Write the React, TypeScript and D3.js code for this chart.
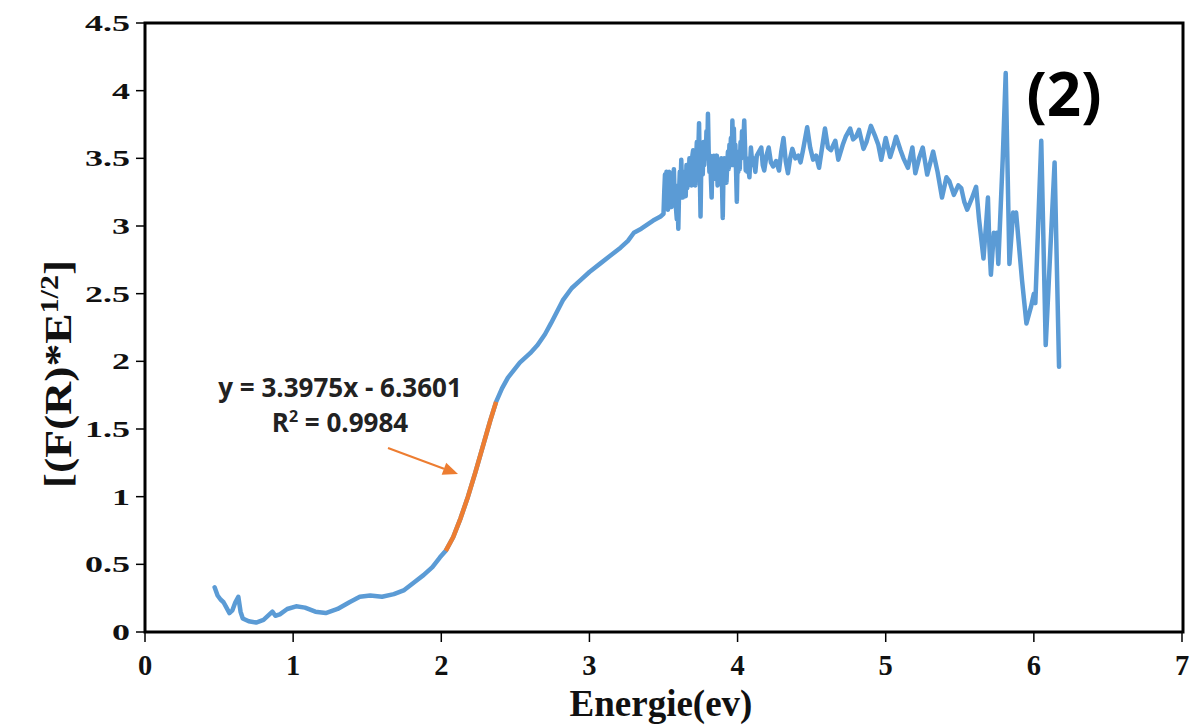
import React from "react";
import * as d3 from "d3";

// ---- data: [energy (eV), [F(R)*E]^1/2] ----
const lowRegion: [number, number][] = [
  [0.47, 0.33], [0.49, 0.27], [0.51, 0.24], [0.53, 0.22], [0.55, 0.18], [0.57, 0.14], [0.59, 0.16], [0.61, 0.22],
  [0.63, 0.26], [0.645, 0.15], [0.66, 0.10], [0.70, 0.08], [0.75, 0.07], [0.80, 0.09], [0.84, 0.13], [0.86, 0.15],
  [0.88, 0.12], [0.91, 0.13], [0.96, 0.17], [1.02, 0.19], [1.08, 0.18], [1.15, 0.15], [1.22, 0.14], [1.30, 0.17],
  [1.38, 0.22], [1.45, 0.26], [1.52, 0.27], [1.60, 0.26], [1.68, 0.28], [1.75, 0.31], [1.82, 0.37], [1.88, 0.42],
  [1.94, 0.48], [1.99, 0.55], [2.03, 0.60],
];
// linear-fit segment (highlighted in orange)
const fitSegment: [number, number][] = [
  [2.03, 0.60], [2.08, 0.70], [2.13, 0.84], [2.18, 1.00], [2.23, 1.18], [2.28, 1.37], [2.33, 1.56], [2.37, 1.70],
];
const edgeRegion: [number, number][] = [
  [2.37, 1.70], [2.41, 1.80], [2.45, 1.88], [2.53, 1.99], [2.60, 2.06], [2.65, 2.12], [2.70, 2.20], [2.74, 2.28],
  [2.82, 2.45], [2.88, 2.54], [2.94, 2.60], [3.00, 2.66], [3.07, 2.72], [3.14, 2.78], [3.21, 2.84], [3.26, 2.89],
  [3.30, 2.95], [3.35, 2.98], [3.39, 3.01], [3.43, 3.04], [3.48, 3.07],
];
const noisyRegion: [number, number][] = [
  [3.500, 3.09], [3.505, 3.25], [3.510, 3.38], [3.515, 3.15], [3.520, 3.40], [3.525, 3.20], [3.530, 3.12],
  [3.535, 3.36], [3.540, 3.40], [3.545, 3.18], [3.550, 3.30], [3.555, 3.14], [3.560, 3.38], [3.565, 3.25],
  [3.570, 3.42], [3.575, 3.22], [3.580, 3.30], [3.585, 3.12], [3.590, 3.05], [3.595, 3.20], [3.600, 2.98],
  [3.605, 3.25], [3.610, 3.40], [3.615, 3.30], [3.620, 3.49], [3.625, 3.28], [3.630, 3.21], [3.635, 3.40],
  [3.640, 3.26], [3.645, 3.38], [3.650, 3.22], [3.655, 3.45], [3.660, 3.28], [3.665, 3.40], [3.670, 3.30],
  [3.675, 3.50], [3.680, 3.32], [3.685, 3.45], [3.690, 3.30], [3.695, 3.52], [3.700, 3.56], [3.705, 3.35],
  [3.710, 3.45], [3.715, 3.30], [3.720, 3.50], [3.725, 3.62], [3.730, 3.40], [3.735, 3.55], [3.740, 3.76],
  [3.745, 3.40], [3.750, 3.07], [3.755, 3.45], [3.760, 3.55], [3.765, 3.38], [3.770, 3.62], [3.775, 3.45],
  [3.780, 3.60], [3.785, 3.50], [3.790, 3.70], [3.795, 3.50], [3.800, 3.83], [3.805, 3.55], [3.810, 3.40],
  [3.815, 3.52], [3.820, 3.35], [3.825, 3.21], [3.830, 3.48], [3.835, 3.38], [3.840, 3.52], [3.845, 3.35],
  [3.850, 3.50], [3.855, 3.42], [3.860, 3.52], [3.865, 3.30], [3.870, 3.48], [3.875, 3.38], [3.880, 3.45],
  [3.885, 3.32], [3.890, 3.50], [3.895, 3.30], [3.900, 3.06], [3.905, 3.40], [3.910, 3.50], [3.915, 3.36],
  [3.920, 3.48], [3.925, 3.32], [3.930, 3.45], [3.935, 3.55], [3.940, 3.42], [3.945, 3.60], [3.950, 3.50],
  [3.955, 3.65], [3.960, 3.45], [3.965, 3.78], [3.970, 3.55], [3.975, 3.72], [3.980, 3.45], [3.985, 3.60],
  [3.990, 3.40], [3.995, 3.18], [4.000, 3.48], [4.005, 3.40], [4.010, 3.55], [4.015, 3.42], [4.020, 3.62],
  [4.025, 3.50], [4.030, 3.70], [4.035, 3.55], [4.040, 3.65], [4.045, 3.78], [4.050, 3.60], [4.055, 3.41],
  [4.060, 3.50], [4.065, 3.40], [4.070, 3.45], [4.080, 3.36], [4.090, 3.58], [4.100, 3.45], [4.110, 3.50],
  [4.120, 3.40], [4.130, 3.52],
];
const plateauRegion: [number, number][] = [
  [4.16, 3.58], [4.17, 3.45], [4.18, 3.41], [4.195, 3.52], [4.21, 3.58], [4.225, 3.47], [4.24, 3.44], [4.26, 3.48],
  [4.28, 3.41], [4.295, 3.55], [4.31, 3.65], [4.325, 3.48], [4.34, 3.39], [4.355, 3.50], [4.37, 3.57], [4.39, 3.50],
  [4.41, 3.52], [4.425, 3.47], [4.44, 3.55], [4.47, 3.73], [4.49, 3.58], [4.51, 3.49], [4.53, 3.52], [4.55, 3.43],
  [4.59, 3.72], [4.61, 3.58], [4.63, 3.56], [4.66, 3.63], [4.68, 3.49], [4.71, 3.60], [4.73, 3.66], [4.76, 3.72],
  [4.78, 3.64], [4.80, 3.66], [4.82, 3.71], [4.85, 3.57], [4.87, 3.62], [4.90, 3.74], [4.93, 3.66], [4.95, 3.60],
  [4.97, 3.49], [5.00, 3.65], [5.03, 3.51], [5.05, 3.58], [5.07, 3.66], [5.10, 3.56], [5.12, 3.50], [5.15, 3.43],
  [5.18, 3.58], [5.20, 3.39], [5.225, 3.50], [5.25, 3.58], [5.28, 3.38], [5.32, 3.55],
];
const tailRegion: [number, number][] = [
  [5.35, 3.40], [5.38, 3.21], [5.41, 3.36], [5.43, 3.33], [5.46, 3.23], [5.49, 3.30], [5.51, 3.28], [5.53, 3.18],
  [5.55, 3.12], [5.58, 3.20], [5.61, 3.29], [5.63, 3.05], [5.66, 2.76], [5.68, 3.05], [5.69, 3.21], [5.70, 2.85],
  [5.71, 2.64], [5.73, 2.95], [5.74, 2.88], [5.75, 2.95], [5.76, 2.72], [5.79, 3.50], [5.81, 4.13], [5.835, 2.72],
  [5.86, 3.10], [5.87, 3.05], [5.88, 3.10], [5.92, 2.60], [5.95, 2.28], [5.98, 2.40], [6.00, 2.50], [6.01, 2.43],
  [6.05, 3.63], [6.08, 2.12], [6.14, 3.47], [6.17, 1.96],
];

const xTicks: number[] = [0, 1, 2, 3, 4, 5, 6, 7];
const yTicks: number[] = [0, 0.5, 1, 1.5, 2, 2.5, 3, 3.5, 4, 4.5];
const yTickLabels: string[] = ["0", "0.5", "1", "1.5", "2", "2.5", "3", "3.5", "4", "4.5"];

const fitEquation = "y = 3.3975x - 6.3601";
const fitR2 = "0.9984";
const panelLabel = "(2)";

export default function App() {
  const W = 1194, H = 726;
  const left = 145, right = 1182, top = 23, bottom = 632;
  const x = d3.scaleLinear().domain([0, 7]).range([left, right]);
  const y = d3.scaleLinear().domain([0, 4.5]).range([bottom, top]);

  const spectrum = [...lowRegion, ...fitSegment.slice(1), ...edgeRegion.slice(1), ...noisyRegion, ...plateauRegion, ...tailRegion];
  const line = d3.line<[number, number]>().x((d) => x(d[0])).y((d) => y(d[1]));

  const blue = "#5B9BD5";
  const orange = "#ED7D31";
  const serif = "'Liberation Serif', 'Times New Roman', serif";
  const sans = "'Open Sans', 'Liberation Sans', sans-serif";

  // arrow
  const ax1 = 388, ay1 = 448, ax2 = 458, ay2 = 474;
  const ang = Math.atan2(ay2 - ay1, ax2 - ax1);
  const hl = 15, hw = 6.5;
  const hx = ax2 - hl * Math.cos(ang), hy = ay2 - hl * Math.sin(ang);
  const head = `M${ax2},${ay2} L${hx - hw * Math.sin(ang)},${hy + hw * Math.cos(ang)} L${hx + hw * Math.sin(ang)},${hy - hw * Math.cos(ang)} Z`;

  return (
    <svg width={W} height={H} style={{ position: "absolute", left: 0, top: 0, background: "#fff" }}>
      <rect x={0} y={0} width={W} height={H} fill="#fff" />
      {/* frame */}
      <rect x={left} y={top} width={right - left + 1} height={bottom - top} fill="none" stroke="#000" strokeWidth={3} />
      {/* y ticks */}
      {yTicks.map((t, i) => (
        <g key={"y" + i}>
          <line x1={left - 9} x2={left} y1={y(t)} y2={y(t)} stroke="#000" strokeWidth={1.5} />
          <text
            transform={`translate(130,${y(t) + 8}) scale(1.5,1)`}
            textAnchor="end"
            fontFamily={serif}
            fontWeight="bold"
            fontSize={24}
            fill="#111"
          >
            {yTickLabels[i]}
          </text>
        </g>
      ))}
      {/* x ticks */}
      {xTicks.map((t, i) => (
        <g key={"x" + i}>
          <line x1={x(t)} x2={x(t)} y1={bottom} y2={bottom + 10} stroke="#000" strokeWidth={1.5} />
          <text
            transform={`translate(${x(t)},675) scale(0.95,1)`}
            textAnchor="middle"
            fontFamily={serif}
            fontWeight="bold"
            fontSize={30}
            fill="#111"
          >
            {t}
          </text>
        </g>
      ))}
      {/* axis titles */}
      <text x={661} y={716} textAnchor="middle" fontFamily={serif} fontWeight="bold" fontSize={37} fill="#111">
        Energie(ev)
      </text>
      <text
        transform="translate(71,374) rotate(-90) scale(1.2,1)"
        textAnchor="middle"
        fontFamily={serif}
        fontWeight="bold"
        fontSize={38}
        fill="#111"
      >
        [(F(R)*E<tspan dy={-13} fontSize={25}>1/2</tspan>
        <tspan dy={13}>]</tspan>
      </text>
      {/* data */}
      <path d={line(spectrum) || ""} fill="none" stroke={blue} strokeWidth={4.5} strokeLinejoin="round" strokeLinecap="round" />
      <path d={line(fitSegment) || ""} fill="none" stroke={orange} strokeWidth={4.5} strokeLinejoin="round" />
      {/* annotation */}
      <text x={340} y={397} textAnchor="middle" fontFamily={sans} fontWeight="bold" fontSize={26} fill="#222">
        {fitEquation}
      </text>
      <text x={340} y={432} textAnchor="middle" fontFamily={sans} fontWeight="bold" fontSize={26} fill="#222">
        R<tspan dy={-10} fontSize={16}>2</tspan>
        <tspan dy={10}> = {fitR2}</tspan>
      </text>
      <line x1={ax1} y1={ay1} x2={hx} y2={hy} stroke={orange} strokeWidth={2} />
      <path d={head} fill={orange} />
      {/* panel label */}
      <text x={1064} y={116} textAnchor="middle" fontFamily={sans} fontWeight="bold" fontSize={60} fill="#000">
        {panelLabel}
      </text>
    </svg>
  );
}
